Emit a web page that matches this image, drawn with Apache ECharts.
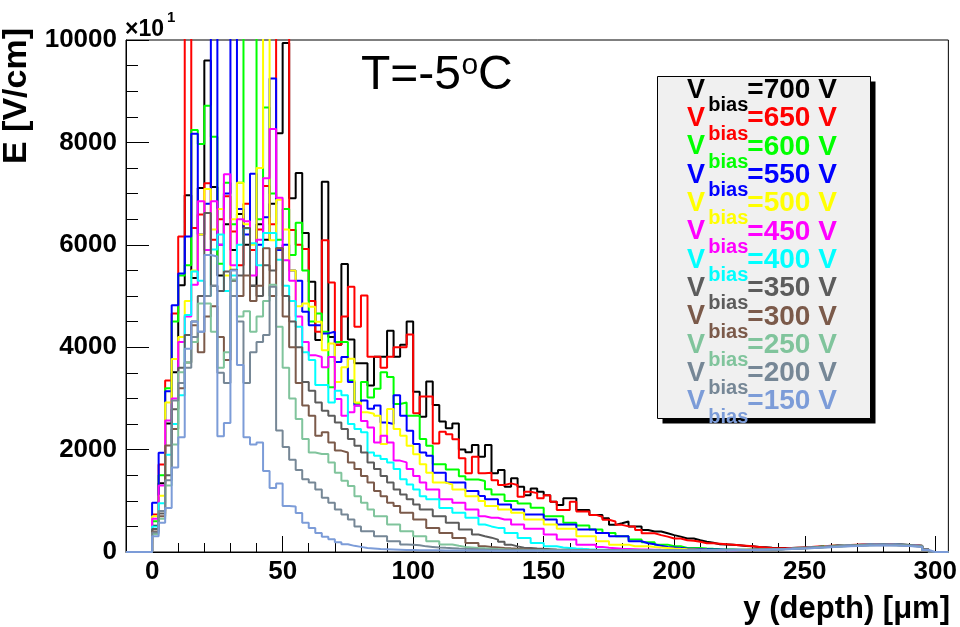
<!DOCTYPE html>
<html><head><meta charset="utf-8">
<script src="https://cdn.jsdelivr.net/npm/echarts@6/dist/echarts.min.js"></script>
<style>html,body{margin:0;padding:0;background:#fff}#c{width:960px;height:627px}</style>
</head><body><div id="c"></div>
<script>
// bin width 2.5 um, 120 bins from 0 to 300 um
const binWidth = 2.5;
const biasVoltages = [700, 650, 600, 550, 500, 450, 400, 350, 300, 250, 200, 150];
const seriesColors = ['#000000', '#ff0000', '#00ff00', '#0000ff', '#ffff00', '#ff00ff', '#00ffff', '#5c5c5c', '#7b5a4a', '#80c49c', '#768796', '#7c9cd8'];
const xTickValues = [0, 50, 100, 150, 200, 250, 300];
const xMinorTickValues = [10,20,30,40,60,70,80,90,110,120,130,140,160,170,180,190,210,220,230,240,260,270,280,290];

const e700 = [
 515,1345,2510,3510,5210,6970,5350,7110,9600,7130,
 5400,6400,5900,6600,6000,5200,6400,6100,6800,8180,
 9940,6910,7400,6230,5280,4140,7230,4200,4050,5625,
 4150,3685,3685,3250,3815,3815,4320,3815,4050,4500,
 3130,2640,3330,2870,2550,2415,2510,2000,1950,2090,
 1860,2090,1537,1600,1275,1440,1275,1110,1240,1175,
 1110,980,920,1050,1050,820,820,725,725,660,
 530,560,595,500,500,430,400,400,365,330,
 300,265,265,230,200,180,150,145,140,130,
 115,110,100,95,85,80,78,80,85,90,
 95,100,110,115,120,125,130,135,140,140,
 145,150,150,145,140,135,130,120,50,0];
const e650 = [
 730,1710,3350,4660,6160,14000,6330,6590,7200,6100,
 6500,6950,6260,5600,6800,5900,6300,7150,6400,14000,
 14000,6290,6000,5920,4900,4300,6090,5263,4050,4600,
 5180,4400,5010,3815,3815,3600,3815,4000,4000,4250,
 2710,3035,3035,2120,2350,2300,2200,1830,1537,1860,
 1537,1550,1400,1310,1340,1310,1080,1175,1150,1050,
 1110,980,820,820,980,790,790,725,690,630,
 595,530,500,500,430,365,365,330,300,265,
 265,230,220,200,170,170,160,150,140,130,
 120,110,100,90,80,75,75,80,85,90,
 100,105,110,120,125,130,135,140,145,145,
 150,150,150,145,140,135,125,115,45,0];
const e600 = [
 600,1500,3200,4500,5400,5600,8240,7970,8715,8110,
 5630,7210,6400,7210,14000,14000,6500,8680,7000,6100,
 6700,5800,6430,5500,4500,4660,4300,3220,4100,4100,
 3350,2890,3320,3020,3190,3510,3420,2890,2920,2660,
 2660,2205,2075,1715,1715,1610,1610,1480,1415,1415,
 1386,1224,1125,1125,995,995,949,949,864,864,
 700,700,700,569,569,517,517,438,438,373,
 373,308,308,242,242,190,190,144,144,111,
 111,79,79,79,70,62,55,50,48,45,
 45,45,48,50,52,55,60,65,70,80,
 90,100,105,115,120,125,130,135,140,145,
 150,150,145,145,140,135,125,115,45,0];
const e550 = [
 960,1940,3140,4820,5440,6160,8170,6200,6800,14000,
 6000,7000,14000,6700,6200,7390,6000,6540,9250,5900,
 6000,5500,5300,4690,4430,4430,4270,4300,3710,3810,
 3320,2860,2960,2800,2860,2530,2500,3060,2660,2370,
 2110,1945,1880,1550,1550,1355,1355,1355,1190,1190,
 1093,1028,1028,930,930,832,832,733,733,733,
 635,635,537,537,537,438,438,438,373,373,
 308,308,308,209,209,170,150,120,100,90,
 80,70,65,60,55,50,48,45,45,42,
 42,45,45,48,50,55,60,65,72,80,
 90,98,105,112,120,125,130,135,140,145,
 148,150,148,145,140,135,128,118,45,0];
const e500 = [
 700,1100,2920,3770,4200,4900,5500,6200,7090,6300,
 6700,5400,6500,7210,6400,6000,7500,14000,6090,6880,
 6300,5500,4800,4855,4790,4495,3940,4070,3320,3610,
 3775,2920,2730,2700,2660,2110,2795,2400,2270,2075,
 1910,1715,1550,1355,1355,1320,1220,1220,1090,1090,
 995,897,897,832,832,766,766,635,635,635,
 537,537,452,452,452,308,308,308,209,209,
 144,144,144,111,111,111,100,90,80,70,
 62,55,50,45,42,40,40,40,40,40,
 42,42,45,48,50,55,60,65,72,80,
 88,95,105,110,118,125,130,135,140,142,
 145,148,145,142,138,132,125,115,45,0];
const e450 = [
 650,1300,2570,3000,4100,4600,5220,6850,5900,6850,
 6000,7380,5600,6500,6460,5400,6100,7300,8260,6920,
 5700,5300,4600,4100,3845,3810,3610,3810,2990,2660,
 2730,2860,2560,2430,2140,2270,2140,1785,1750,1620,
 1485,1355,1220,1220,1030,1030,960,960,830,830,
 700,670,670,635,635,537,537,452,452,452,
 340,340,242,242,242,144,144,144,100,85,
 75,65,60,55,50,48,45,42,40,40,
 38,38,36,36,35,35,35,35,36,38,
 40,42,45,48,52,56,60,66,72,80,
 88,95,102,110,118,124,130,135,140,142,
 145,148,146,143,138,132,125,115,45,0];
const e400 = [
 500,950,1900,2500,3060,4630,5480,5300,5000,5910,
 6200,5100,5400,6000,6320,6030,5600,6230,6230,5710,
 5200,4900,4400,3900,3750,3260,3260,2920,3150,3060,
 2500,2400,2340,1945,1880,1815,1750,1620,1420,1320,
 1220,1090,1030,1030,860,860,765,765,670,670,
 537,500,471,471,373,373,275,275,176,176,
 111,111,90,80,70,62,55,50,46,42,
 40,38,36,35,34,33,33,33,34,35,
 36,36,36,36,36,36,37,38,38,40,
 40,42,45,48,52,56,60,65,72,80,
 86,94,100,108,115,122,128,132,137,140,
 142,145,143,140,136,130,123,112,45,0];
const e350 = [
 450,750,1500,2790,3600,4240,4500,5000,6620,5200,
 5100,5480,5300,5400,6330,5200,5000,5600,5500,5935,
 5000,4500,4000,3320,3150,2920,2760,2660,2530,2400,
 2205,2075,1945,1750,1620,1485,1355,1220,1125,1030,
 930,830,830,700,700,570,570,440,440,340,
 308,280,242,200,144,110,85,79,70,62,
 56,50,46,42,40,38,36,35,34,33,
 32,32,31,31,31,31,32,32,33,33,
 34,34,35,35,36,36,37,38,38,40,
 41,42,45,48,52,56,60,65,70,78,
 85,92,100,106,112,118,124,130,134,138,
 140,142,141,138,134,128,120,110,42,0];
const e300 = [
 400,700,2080,2400,3200,3700,4430,3900,4600,4800,
 4200,3750,5515,5000,5400,4900,5200,5935,5000,5935,
 4600,4000,3300,2860,2660,2270,2340,2140,1980,1945,
 1750,1620,1485,1355,1190,1090,960,900,765,765,
 635,635,470,470,373,373,275,275,176,176,
 111,100,90,80,72,65,58,52,48,45,
 42,40,38,36,35,34,33,32,31,31,
 30,30,30,30,30,30,31,31,32,32,
 33,33,34,34,35,35,36,37,38,39,
 40,42,44,47,50,54,58,63,68,75,
 82,90,97,104,110,116,122,127,132,136,
 138,140,139,136,132,126,118,108,42,0];
const e250 = [
 350,650,1300,2100,3510,3700,4100,4855,4855,4300,
 3600,3900,5320,4600,4700,4300,4600,4900,5220,4400,
 3600,3000,2600,2205,1945,1915,1915,1750,1550,1390,
 1290,1090,960,830,700,700,535,535,405,405,
 310,310,210,210,145,145,120,100,90,80,
 72,65,58,52,48,45,42,40,38,36,
 35,34,33,32,31,30,30,29,29,29,
 29,29,29,29,29,30,30,30,31,31,
 32,32,33,33,34,35,36,36,37,38,
 40,41,43,46,49,53,57,62,67,74,
 80,88,95,102,108,114,120,125,130,134,
 136,138,137,134,130,124,116,106,40,0];
const e200 = [
 380,800,1400,2960,3300,3600,4200,4300,5000,5200,
 3500,3300,5000,4500,3300,3900,4100,4240,5180,2375,
 2050,1800,1600,1420,1355,1220,1060,960,830,730,
 635,500,405,405,310,310,210,210,145,140,
 130,110,100,90,82,75,68,62,57,52,
 48,45,42,40,38,36,34,33,32,31,
 30,29,29,28,28,28,28,28,28,28,
 28,28,28,28,28,29,29,29,30,30,
 31,31,32,32,33,34,35,35,36,37,
 39,40,42,45,48,52,56,60,66,72,
 78,85,92,99,105,111,117,122,127,131,
 133,135,134,131,127,121,113,104,40,0];
const e150 = [
 310,570,860,1650,2240,3970,4500,4300,5800,5770,
 2260,2520,5500,3650,2240,2100,2140,1580,1250,1340,
 900,890,760,570,470,370,300,250,190,150,
 120,100,80,70,60,55,50,45,40,40,
 35,34,33,32,31,30,29,28,28,27,
 27,26,26,26,25,25,25,25,25,25,
 24,25,25,24,25,26,25,25,26,26,
 26,27,27,27,28,28,28,29,29,30,
 30,31,31,32,33,33,34,35,36,37,
 38,39,41,44,47,50,54,58,63,69,
 75,82,88,95,101,107,112,117,121,125,
 128,130,129,126,122,116,108,98,38,0];

const allValues = [e700, e650, e600, e550, e500, e450, e400, e350, e300, e250, e200, e150];

function stepPoints(vals) {
  const pts = [[-10, 0]];
  vals.forEach((v, i) => pts.push([i * binWidth, v]));
  const end = vals.length * binWidth;
  pts.push([end, vals[vals.length - 1]]);
  pts.push([end, 0]);
  pts.push([305, 0]);
  return pts;
}

const FONT = "'Liberation Sans', Arial, Helvetica, sans-serif";
const chart = echarts.init(document.getElementById('c'), null, {renderer: 'canvas'});

const series = allValues.map((vals, k) => ({
  type: 'line',
  name: 'V' + biasVoltages[k],
  step: 'end',
  data: stepPoints(vals),
  showSymbol: false,
  symbol: 'none',
  clip: true,
  silent: true,
  lineStyle: {color: seriesColors[k], width: 2},
  itemStyle: {color: seriesColors[k]},
  xAxisIndex: 0,
  yAxisIndex: 0,
  z: 2 + k
}));

const legendGraphics = [];
const boxX = 657.5, boxY = 76.5, boxW = 213, boxH = 342;
legendGraphics.push({type: 'rect', shape: {x: boxX + 5, y: boxY + 5, width: boxW, height: boxH}, style: {fill: '#000'}, z: 100});
legendGraphics.push({type: 'rect', shape: {x: boxX, y: boxY, width: boxW, height: boxH}, style: {fill: '#f0f0f0', stroke: '#000', lineWidth: 1}, z: 101});
biasVoltages.forEach((v, i) => {
  const yc = 90.4 + 28.3 * i;
  const col = seriesColors[i];
  legendGraphics.push({type: 'text', x: 687, y: yc, z: 102, style: {text: 'V', font: 'bold 27px ' + FONT, fill: col, align: 'left', verticalAlign: 'middle', textAlign: 'left', textVerticalAlign: 'middle'}});
  legendGraphics.push({type: 'text', x: 708.3, y: yc + 15.3, z: 103, style: {text: 'bias', font: 'bold 20px ' + FONT, fill: col, align: 'left', verticalAlign: 'middle', textAlign: 'left', textVerticalAlign: 'middle'}});
  legendGraphics.push({type: 'text', x: 747.3, y: yc, z: 102, style: {text: '=' + v + ' V', font: 'bold 28px ' + FONT, fill: col, align: 'left', verticalAlign: 'middle', textAlign: 'left', textVerticalAlign: 'middle'}});
});

const textGraphics = [
  {type: 'text', x: 125, y: 30, style: {text: '×10', font: 'bold 23px ' + FONT, fill: '#000', align: 'left', verticalAlign: 'middle', textAlign: 'left', textVerticalAlign: 'middle'}},
  {type: 'text', x: 167, y: 18, style: {text: '1', font: 'bold 15px ' + FONT, fill: '#000', align: 'left', verticalAlign: 'middle', textAlign: 'left', textVerticalAlign: 'middle'}},
  {type: 'text', x: 361, y: 76, style: {text: 'T=-5', font: '48px ' + FONT, fill: '#000', align: 'left', verticalAlign: 'middle', textAlign: 'left', textVerticalAlign: 'middle'}},
  {type: 'text', x: 461.5, y: 66, style: {text: 'o', font: '30px ' + FONT, fill: '#000', align: 'left', verticalAlign: 'middle', textAlign: 'left', textVerticalAlign: 'middle'}},
  {type: 'text', x: 478, y: 76, style: {text: 'C', font: '48px ' + FONT, fill: '#000', align: 'left', verticalAlign: 'middle', textAlign: 'left', textVerticalAlign: 'middle'}},
  {type: 'text', x: 17, y: 96, rotation: Math.PI / 2, style: {text: 'E [V/cm]', font: 'bold 34px ' + FONT, fill: '#000', align: 'center', verticalAlign: 'middle', textAlign: 'center', textVerticalAlign: 'middle'}},
  {type: 'text', x: 950, y: 609, style: {text: 'y (depth) [μm]', font: 'bold 31px ' + FONT, fill: '#000', align: 'right', verticalAlign: 'middle', textAlign: 'right', textVerticalAlign: 'middle'}}
];

const labelStyle = {color: '#000', fontFamily: FONT, fontWeight: 'bold', fontSize: 26};

chart.setOption({
  animation: false,
  backgroundColor: '#ffffff',
  grid: {left: 126, right: 10, top: 40, bottom: 75, show: true, borderColor: '#000', borderWidth: 1, backgroundColor: 'transparent'},
  xAxis: [
    {
      type: 'value', min: -10, max: 305,
      axisLine: {show: true, onZero: false, lineStyle: {color: '#000', width: 1}},
      axisTick: {show: true, inside: true, length: 16, customValues: xTickValues, lineStyle: {color: '#000', width: 1}},
      axisLabel: Object.assign({show: true, margin: 7, customValues: xTickValues, formatter: v => String(v)}, labelStyle),
      splitLine: {show: false}
    },
    {
      type: 'value', min: -10, max: 305, position: 'bottom',
      axisLine: {show: false, onZero: false},
      axisTick: {show: true, inside: true, length: 9, customValues: xMinorTickValues, lineStyle: {color: '#000', width: 1}},
      axisLabel: {show: false},
      splitLine: {show: false}
    }
  ],
  yAxis: {
    type: 'value', min: 0, max: 10000, interval: 2000, position: 'left',
    axisLine: {show: true, onZero: false, lineStyle: {color: '#000', width: 1}},
    axisTick: {show: true, inside: true, length: 23, lineStyle: {color: '#000', width: 1}},
    minorTick: {show: true, splitNumber: 4, length: 12, lineStyle: {color: '#000', width: 1}},
    axisLabel: Object.assign({margin: 9, padding: [0, 0, 5, 0], formatter: v => String(v)}, labelStyle),
    splitLine: {show: false}
  },
  series: series,
  graphic: textGraphics.concat(legendGraphics)
});
</script>
</body></html>
